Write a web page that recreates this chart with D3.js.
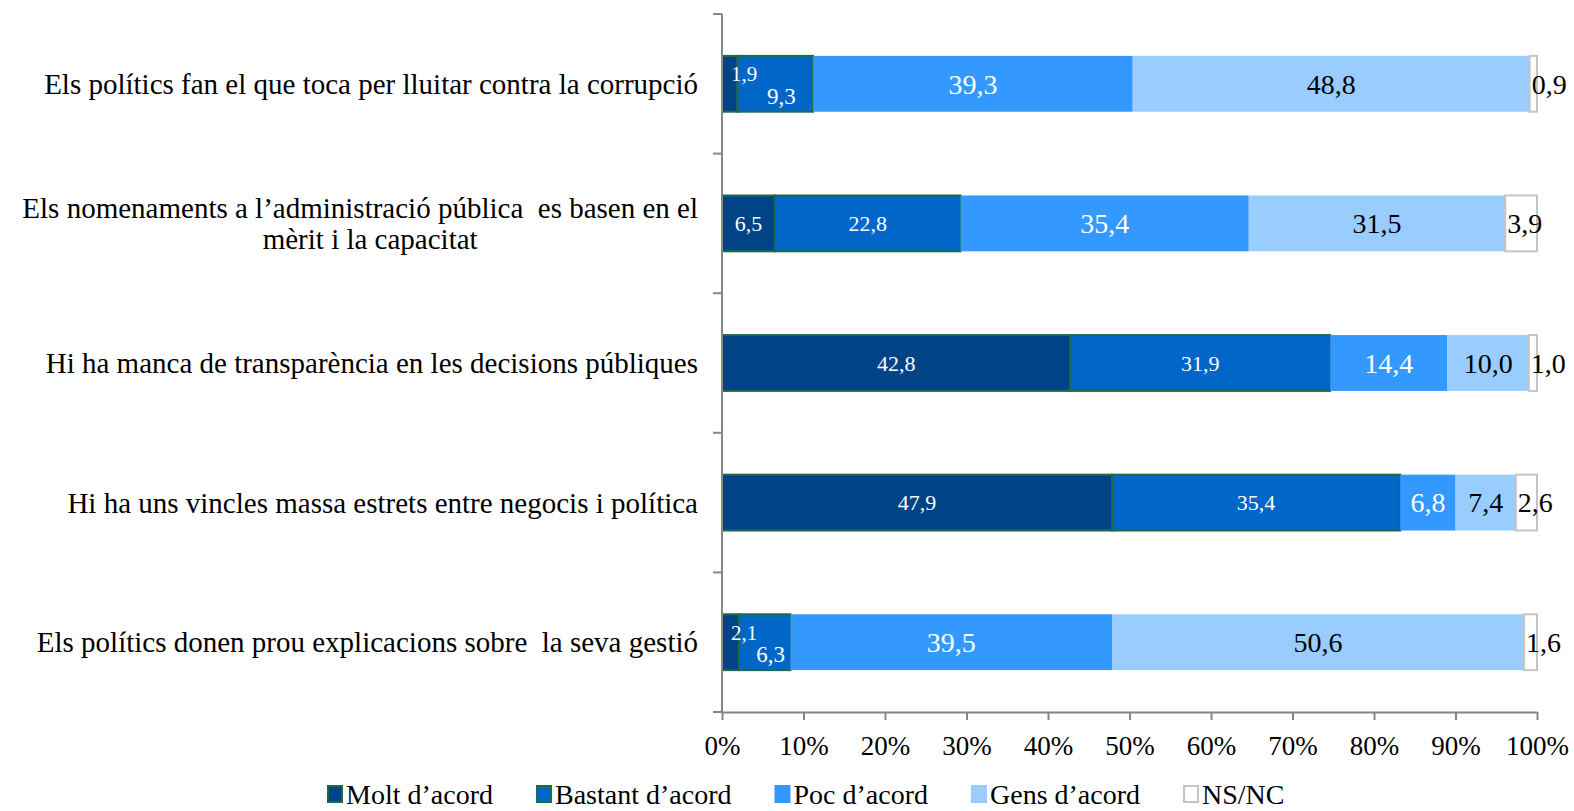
<!DOCTYPE html>
<html>
<head>
<meta charset="utf-8">
<script src="https://cdn.jsdelivr.net/npm/d3@7"></script>
<style>
  body { margin: 0; background: #fff; }
  text { font-family: "Liberation Serif", serif; }
</style>
</head>
<body>
<svg id="chart" width="1574" height="811"></svg>
<script>
// data
const categories = [
    ["Els polítics fan el que toca per lluitar contra la corrupció"],
    ["Els nomenaments a l’administració pública  es basen en el", "mèrit i la capacitat"],
    ["Hi ha manca de transparència en les decisions públiques"],
    ["Hi ha uns vincles massa estrets entre negocis i política"],
    ["Els polítics donen prou explicacions sobre  la seva gestió"]
];
const seriesNames = ["Molt d’acord", "Bastant d’acord", "Poc d’acord", "Gens d’acord", "NS/NC"];
const molt = [1.9, 6.5, 42.8, 47.9, 2.1];
const bastant = [9.3, 22.8, 31.9, 35.4, 6.3];
const poc = [39.3, 35.4, 14.4, 6.8, 39.5];
const gens = [48.8, 31.5, 10.0, 7.4, 50.6];
const nsnc = [0.9, 3.9, 1.0, 2.6, 1.6];
const tickValues = [0, 10, 20, 30, 40, 50, 60, 70, 80, 90, 100];

const FILLS = ["#004386", "#0066c8", "#3399ff", "#99ccff", "#ffffff"];
const STROKES = ["#1e6b4c", "#1e6b4c", "none", "none", "#c4c4c4"];
const LABEL_COLORS = ["#fff", "#fff", "#fff", "#000", "#000"];
const LABEL_SIZES = [22, 22, 28, 28, 28];
const AXIS_COLOR = "#868686";
const CAT_SIZE = 29;

const svg = d3.select("#chart");
const keys = seriesNames;
const table = categories.map((c, i) => ({
    idx: i,
    [keys[0]]: molt[i], [keys[1]]: bastant[i], [keys[2]]: poc[i],
    [keys[3]]: gens[i], [keys[4]]: nsnc[i]
}));
const stacked = d3.stack().keys(keys).offset(d3.stackOffsetExpand)(table);

const x = d3.scaleLinear().domain([0, 1]).range([722, 1537]);
const y = d3.scaleBand()
    .domain(d3.range(categories.length))
    .range([14, 712])
    .paddingInner(0.6)
    .paddingOuter(0.3);

const fmt = v => d3.format(".1f")(v).replace(".", ",");

// bars
const groups = svg.append("g").selectAll("g")
    .data(stacked)
    .join("g")
    .attr("fill", (d, i) => FILLS[i])
    .attr("stroke", (d, i) => STROKES[i])
    .attr("stroke-width", 2);

groups.selectAll("rect")
    .data(d => d)
    .join("rect")
    .attr("x", d => x(d[0]))
    .attr("y", d => y(d.data.idx))
    .attr("width", d => x(d[1]) - x(d[0]))
    .attr("height", y.bandwidth());

// y axis: line plus ticks on band boundaries
const step = y.step();
const top0 = y.range()[0];
svg.append("line")
    .attr("x1", x(0)).attr("x2", x(0))
    .attr("y1", top0).attr("y2", y.range()[1])
    .attr("stroke", AXIS_COLOR).attr("stroke-width", 2);
svg.append("g").selectAll("line")
    .data(d3.range(categories.length + 1))
    .join("line")
    .attr("x1", x(0) - 9).attr("x2", x(0))
    .attr("y1", i => top0 + i * step).attr("y2", i => top0 + i * step)
    .attr("stroke", AXIS_COLOR).attr("stroke-width", 2);

// x axis
const xAxis = svg.append("g")
    .attr("transform", `translate(0,${y.range()[1]})`)
    .call(d3.axisBottom(x)
        .tickValues(tickValues.map(t => t / 100))
        .tickFormat(d => Math.round(d * 100) + "%")
        .tickSize(8)
        .tickSizeOuter(0)
        .tickPadding(16));
xAxis.select(".domain").attr("stroke", AXIS_COLOR).attr("stroke-width", 2);
xAxis.selectAll(".tick line").attr("stroke", AXIS_COLOR).attr("stroke-width", 2);
xAxis.selectAll(".tick text")
    .attr("fill", "#000")
    .style("font-family", "Liberation Serif")
    .style("font-size", "27px");

// category labels
const catLabels = svg.append("g").selectAll("text")
    .data(categories)
    .join("text")
    .attr("x", 698)
    .attr("y", (d, i) => y(i) + y.bandwidth() / 2)
    .attr("text-anchor", "end")
    .style("font-size", CAT_SIZE + "px")
    .style("white-space", "pre")
    .attr("fill", "#000");
catLabels.each(function (lines) {
    const t = d3.select(this);
    if (lines.length === 1) {
        t.append("tspan").attr("dy", "0.35em").text(lines[0]);
        return;
    }
    const lh = 31;
    const first = t.append("tspan")
        .attr("x", 698)
        .attr("dy", (0.35 * CAT_SIZE - lh / 2) + "px")
        .text(lines[0]);
    const w = first.node().getComputedTextLength();
    t.attr("text-anchor", "middle");
    first.attr("x", 698 - w / 2);
    lines.slice(1).forEach(l => {
        t.append("tspan").attr("x", 698 - w / 2 + 10).attr("dy", lh + "px").text(l);
    });
});

// value labels
stacked.forEach((layer, si) => {
    svg.append("g").selectAll("text")
        .data(layer)
        .join("text")
        .each(function (d) {
            const i = d.data.idx;
            const raw = d.data[keys[si]];
            const cy = y(i) + y.bandwidth() / 2;
            let px = (x(d[0]) + x(d[1])) / 2, py = cy, anchor = "middle", size = LABEL_SIZES[si];
            const tinyMolt = molt[i] < 3;
            if (si === 0 && tinyMolt) {
                px = x(d[0]) + 9; py = cy - 10; anchor = "start"; size = 21;
            } else if (si === 1 && tinyMolt) {
                px += 6; py = cy + 12; size = 23;
            } else if (si === 4) {
                px = x(d[0]) + 2; anchor = "start";
            }
            d3.select(this)
                .attr("x", px)
                .attr("y", py)
                .attr("dy", "0.35em")
                .attr("text-anchor", anchor)
                .attr("fill", LABEL_COLORS[si])
                .style("font-size", size + "px")
                .text(fmt(raw));
        });
});

// legend
const legend = svg.append("g").attr("transform", "translate(328,794)");
let lx = 0;
seriesNames.forEach((name, i) => {
    legend.append("rect")
        .attr("x", lx).attr("y", -8)
        .attr("width", 14).attr("height", 16)
        .attr("fill", FILLS[i])
        .attr("stroke", STROKES[i] === "none" ? FILLS[i] : STROKES[i])
        .attr("stroke-width", 2);
    const t = legend.append("text")
        .attr("x", lx + 18)
        .attr("dy", "0.35em")
        .style("font-size", "28px")
        .attr("fill", "#000")
        .text(name);
    lx += 18 + t.node().getComputedTextLength() + 44;
});
</script>
</body>
</html>
